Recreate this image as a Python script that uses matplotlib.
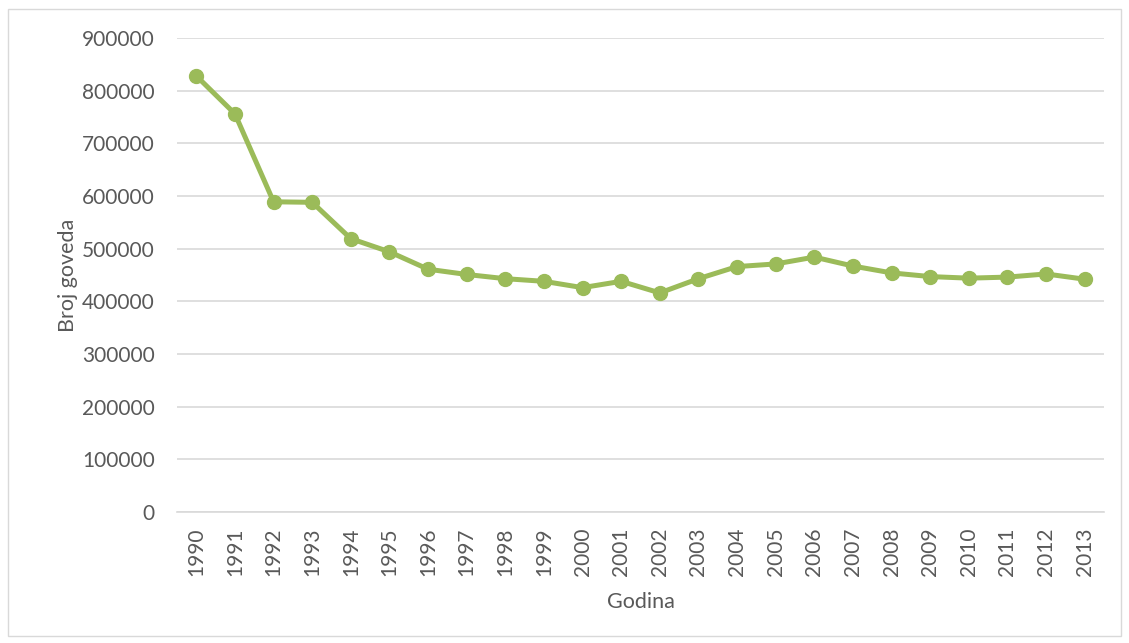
import numpy as np
import matplotlib.pyplot as plt
from matplotlib.patches import Rectangle

years = [str(y) for y in range(1990, 2014)]
goveda = [828000, 756000, 589000, 588000, 519000, 494000, 461000, 451000,
          443000, 438000, 426000, 438000, 416000, 443000, 466000, 471000,
          484000, 467000, 454000, 447000, 444000, 446000, 452000, 442000]

plt.rcParams['font.family'] = ['Lato', 'DejaVu Sans']

fig = plt.figure(figsize=(11.29, 6.43), dpi=100)
ax = fig.add_axes([177/1129, 1 - 512/643, (1104 - 177)/1129, (512 - 38)/643])

# outer chart border like excel
fig.patches.append(Rectangle((8/1129, 7/643), (1121 - 8)/1129, (634 - 7)/643,
                             transform=fig.transFigure, fill=False,
                             edgecolor='#d9d9d9', lw=1))

x = np.arange(len(years))
ax.plot(x, goveda, color='#9bbb59', lw=3.6, marker='o', markersize=10,
        solid_joinstyle='round', zorder=3)

ax.set_xlim(-0.5, len(years) - 0.5)
ax.set_ylim(0, 900000)
ax.set_yticks(np.arange(0, 900001, 100000))
ax.set_xticks(x)
ax.set_xticklabels(years, rotation=90)
ax.grid(axis='y', color='#d9d9d9', lw=1.2)
ax.set_axisbelow(True)
for s in ['top', 'right', 'left']:
    ax.spines[s].set_visible(False)
ax.spines['bottom'].set_color('#d9d9d9')
ax.spines['bottom'].set_linewidth(1.2)
ax.tick_params(axis='both', length=0, labelsize=15, colors='#595959')
ax.tick_params(axis='y', pad=16)
ax.tick_params(axis='x', pad=11)

ax.set_ylabel('Broj goveda', fontsize=15.5, color='#595959', labelpad=3)
ax.set_xlabel('Godina', fontsize=15.5, color='#595959', labelpad=12)

plt.savefig('out.png', dpi=100)
